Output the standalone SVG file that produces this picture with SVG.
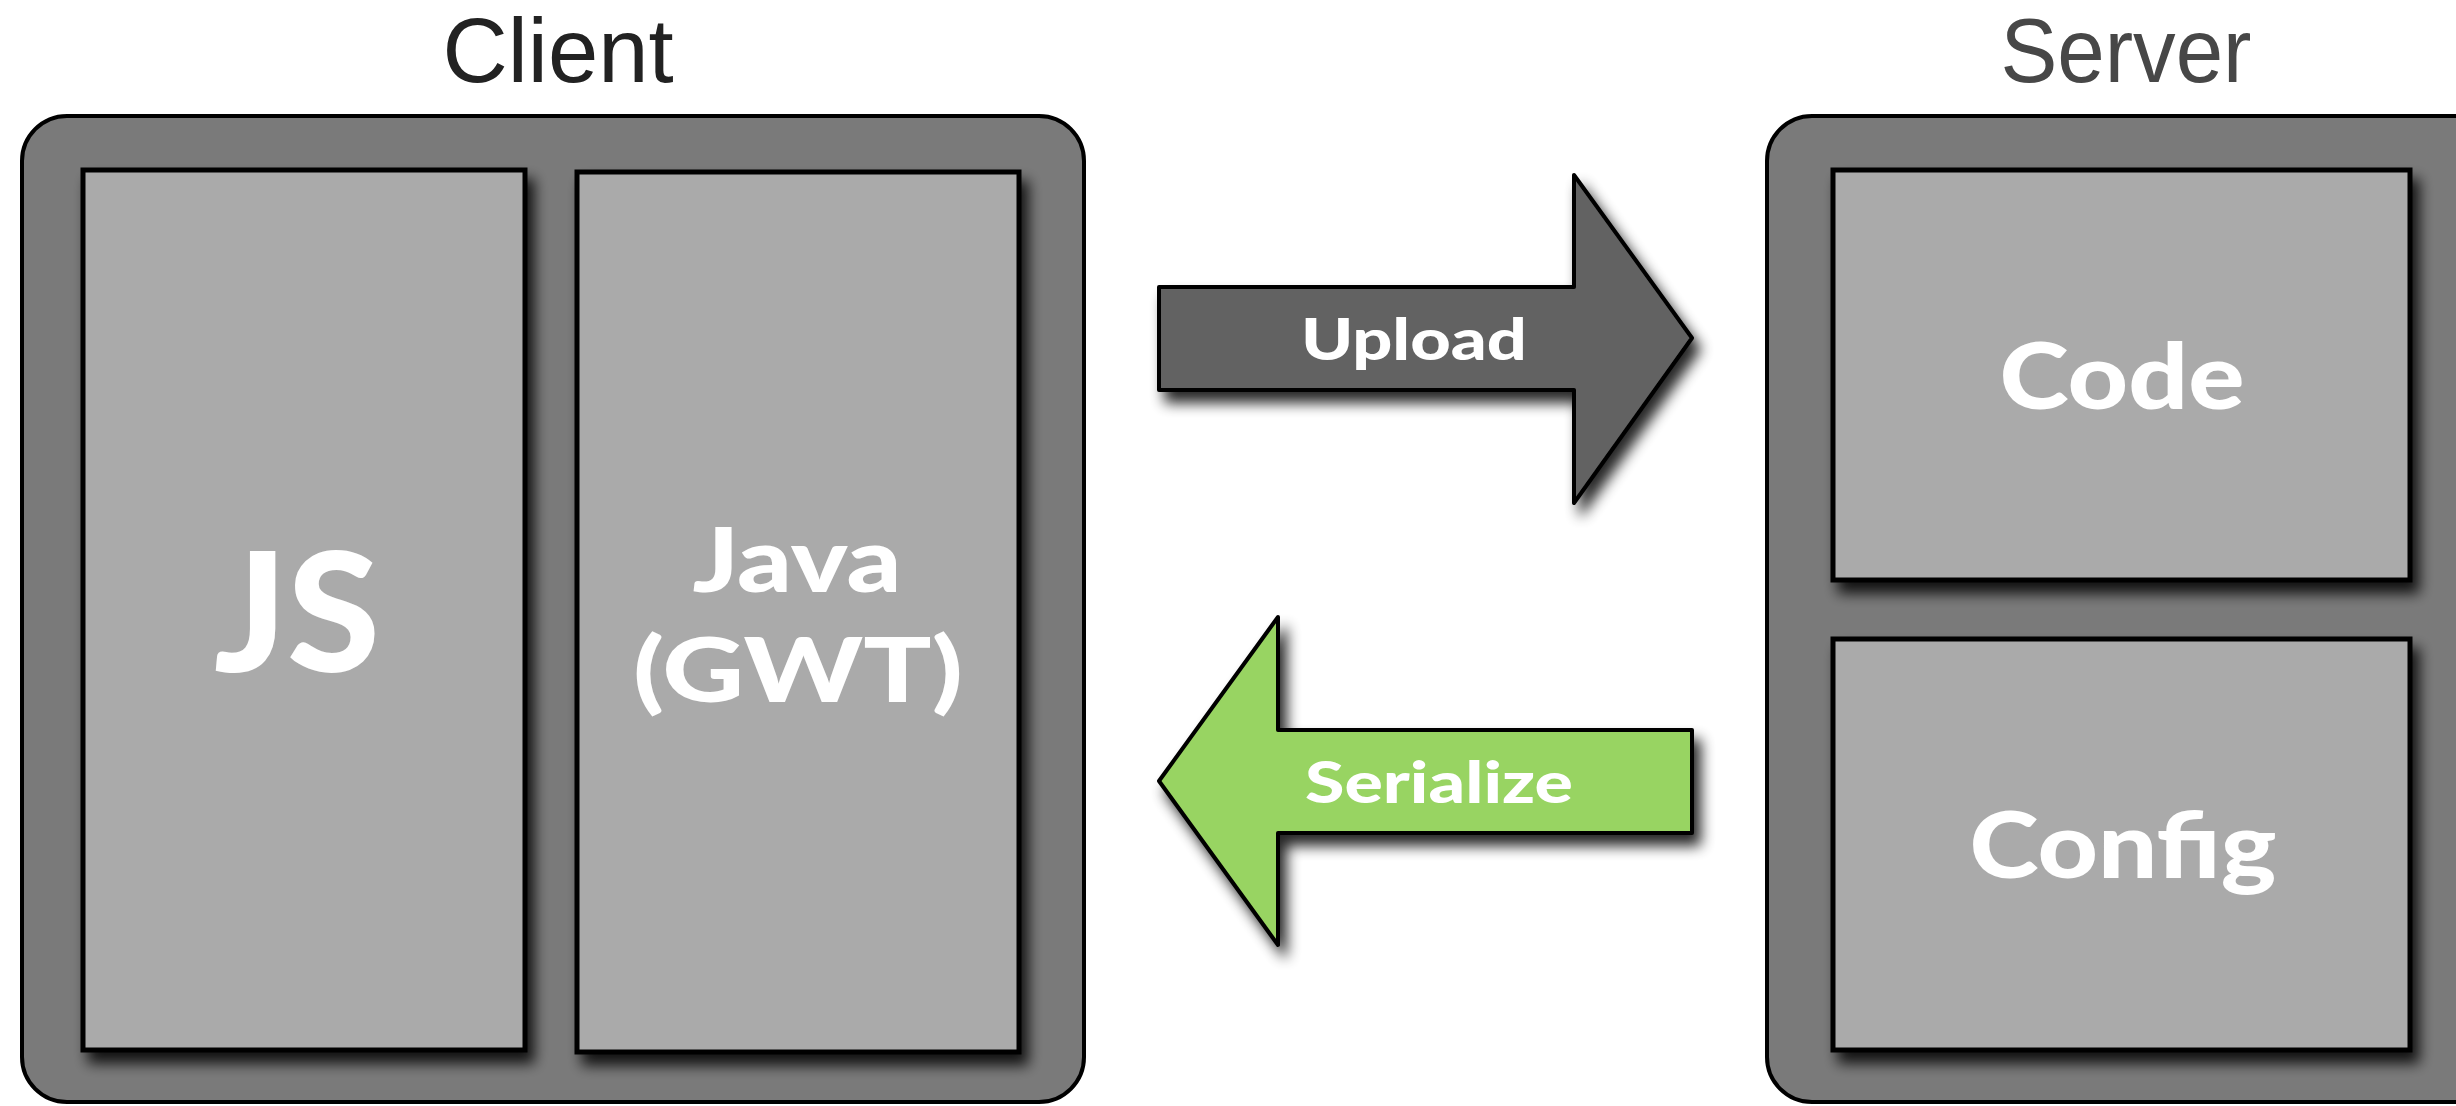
<svg xmlns="http://www.w3.org/2000/svg" width="2456" height="1106" viewBox="0 0 2456 1106">
  <defs>
    <filter id="shadow" x="-10%" y="-10%" width="130%" height="130%">
      <feGaussianBlur in="SourceAlpha" stdDeviation="7"/>
      <feOffset dx="7" dy="11" result="b"/>
      <feComponentTransfer><feFuncA type="linear" slope="0.85"/></feComponentTransfer>
      <feMerge><feMergeNode/><feMergeNode in="SourceGraphic"/></feMerge>
    </filter>
    <style>
      .title { font-family: "Liberation Sans", Lato, sans-serif; font-size: 90px; text-anchor: middle; }
      .outer { fill: #7a7a7a; stroke: #000; stroke-width: 4; }
      .inner { fill: #aaaaaa; stroke: #000; stroke-width: 5; }
      .lbl { font-family: Lato, "Liberation Sans", sans-serif; font-weight: 900; fill: #fff; text-anchor: middle; }
      .arrow { stroke: #000; stroke-width: 4; stroke-linejoin: round; }
    </style>
  </defs>
  <rect width="2456" height="1106" fill="#fff"/>

  <g id="client">
    <text class="title" x="558" y="82" fill="#222" textLength="231" lengthAdjust="spacingAndGlyphs">Client</text>
    <rect class="outer" x="22" y="116" width="1062" height="986" rx="45" ry="45"/>
    <g id="js">
      <rect class="inner" x="83" y="170" width="442" height="880" filter="url(#shadow)"/>
      <text class="lbl" x="297" y="672" font-size="165" textLength="166" lengthAdjust="spacingAndGlyphs">JS</text>
    </g>
    <g id="java">
      <rect class="inner" x="577" y="172" width="442" height="880" filter="url(#shadow)"/>
      <text class="lbl" x="797" y="592" font-size="90" textLength="209" lengthAdjust="spacingAndGlyphs">Java</text>
      <text class="lbl" x="798" y="702" font-size="90" textLength="330" lengthAdjust="spacingAndGlyphs">(GWT)</text>
    </g>
  </g>

  <g id="server">
    <text class="title" x="2126" y="82" fill="#474747" textLength="251" lengthAdjust="spacingAndGlyphs">Server</text>
    <rect class="outer" x="1767" y="116" width="800" height="986" rx="45" ry="45"/>
    <g id="code">
      <rect class="inner" x="1833" y="170" width="577" height="410" filter="url(#shadow)"/>
      <text class="lbl" x="2122" y="409" font-size="92" textLength="245" lengthAdjust="spacingAndGlyphs">Code</text>
    </g>
    <g id="config">
      <rect class="inner" x="1833" y="639" width="577" height="411" filter="url(#shadow)"/>
      <text class="lbl" x="2123" y="878" font-size="92" textLength="307" lengthAdjust="spacingAndGlyphs">Config</text>
    </g>
  </g>

  <g id="connectors">
    <g id="upload">
      <path class="arrow" fill="#626262" filter="url(#shadow)" d="M1159,287 L1574,287 L1574,175 L1692,338 L1574,503 L1574,390 L1159,390 Z"/>
      <text class="lbl" x="1414" y="360" font-size="58" textLength="226" lengthAdjust="spacingAndGlyphs">Upload</text>
    </g>
    <g id="serialize">
      <path class="arrow" fill="#98d462" filter="url(#shadow)" d="M1692,730 L1278,730 L1278,617 L1159,781 L1278,945 L1278,833 L1692,833 Z"/>
      <text class="lbl" x="1439" y="803" font-size="58" textLength="268" lengthAdjust="spacingAndGlyphs">Serialize</text>
    </g>
  </g>
</svg>
